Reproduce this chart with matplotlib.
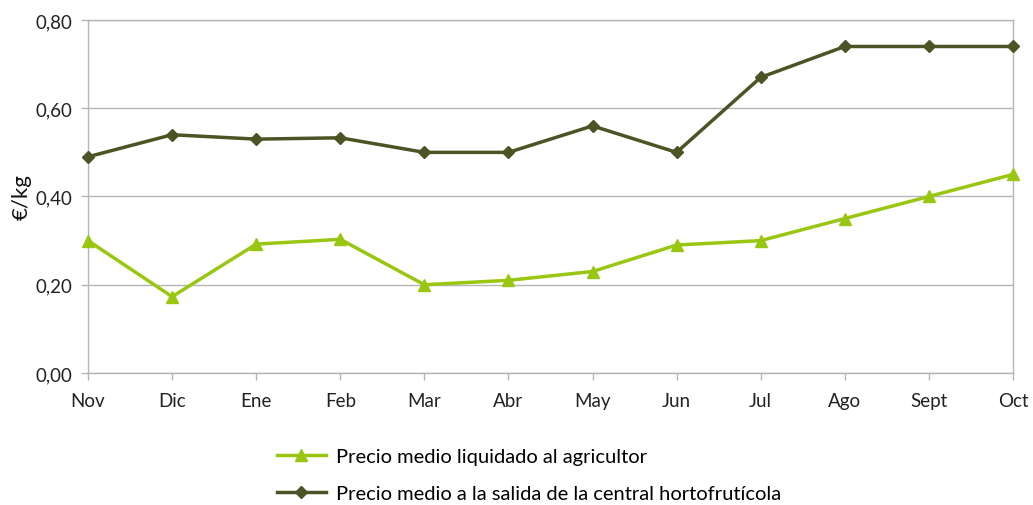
import matplotlib.pyplot as plt
from matplotlib.ticker import FuncFormatter

# === Data ===
months = ['Nov', 'Dic', 'Ene', 'Feb', 'Mar', 'Abr', 'May', 'Jun', 'Jul', 'Ago', 'Sept', 'Oct']
precio_agricultor = [0.30, 0.173, 0.292, 0.303, 0.20, 0.21, 0.23, 0.29, 0.30, 0.35, 0.40, 0.45]
precio_central = [0.49, 0.54, 0.53, 0.533, 0.50, 0.50, 0.56, 0.50, 0.67, 0.74, 0.74, 0.74]

light_green = '#99C711'
dark_green = '#4A5424'
grid_gray = '#B5B5B5'

plt.rcParams['font.family'] = ['Lato', 'DejaVu Sans']

fig = plt.figure(figsize=(10.33, 5.06), dpi=100)
ax = fig.add_axes([0.0852, 0.2609, 0.8954, 0.6976])

x = list(range(len(months)))
ax.plot(x, precio_agricultor, color=light_green, lw=2.5, marker='^', ms=8,
        label='Precio medio liquidado al agricultor', clip_on=False, zorder=3)
ax.plot(x, precio_central, color=dark_green, lw=2.5, marker='D', ms=6,
        label='Precio medio a la salida de la central hortofrutícola', clip_on=False, zorder=3)

# === Axes formatting ===
ax.set_xlim(0, len(months) - 1)
ax.set_ylim(0, 0.8)
ax.set_yticks([0, 0.2, 0.4, 0.6, 0.8])
ax.yaxis.set_major_formatter(FuncFormatter(lambda v, p: f'{v:.2f}'.replace('.', ',')))
ax.set_xticks(x)
ax.set_xticklabels(months)
ax.grid(axis='y', color=grid_gray, lw=1)
ax.set_axisbelow(True)
for side in ['left', 'bottom', 'top', 'right']:
    ax.spines[side].set_color(grid_gray)
    ax.spines[side].set_linewidth(1)
ax.tick_params(colors=grid_gray, labelcolor='#222222', labelsize=13.5, length=5, width=1)
ax.tick_params(axis='x', pad=9)
ax.tick_params(axis='y', pad=6)
ax.set_ylabel('€/kg', fontsize=16, color='#111111', labelpad=3)

ax.legend(loc='upper left', bbox_to_anchor=(0.185, -0.16), frameon=False,
          fontsize=14.5, handlelength=2.4, labelspacing=1.0, handletextpad=0.5)

fig.savefig('out.png', dpi=100)
